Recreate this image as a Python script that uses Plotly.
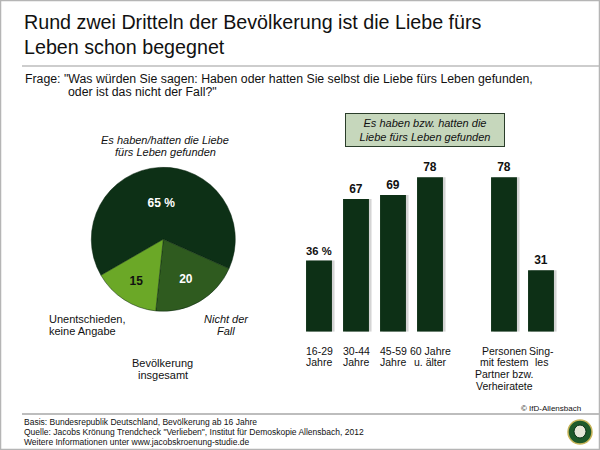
import plotly.graph_objects as go

W, H = 600, 450
FONT = "Liberation Sans"

# ---- data ----
pie_labels = ["Es haben/hatten die Liebe fürs Leben gefunden", "Nicht der Fall", "Unentschieden, keine Angabe"]
pie_values = [65, 20, 15]
pie_text = ["65 %", "20", "15"]

bar_positions = [0, 1, 2, 3, 5, 6]
bar_values = [36, 67, 69, 78, 78, 31]
bar_text = ["36 %", "67", "69", "78", "78", "31"]
bar_labels = ["16-29|Jahre", "30-44|Jahre", "45-59|Jahre", "60 Jahre|u. älter",
              "Personen|mit festem|Partner bzw.|Verheiratete", "Sing-|les"]


def px(x):
    return x / W


def py(y):
    return 1 - y / H


DARK = "#0d3016"
MID = "#2f5b1f"
LIGHT = "#6ba827"

fig = go.Figure()

# pie
cx, cy, r = 163.3, 239.3, 72
fig.add_trace(go.Pie(
    labels=pie_labels, values=pie_values, text=pie_text,
    texttemplate="<b>%{text}</b>", textposition="inside",
    insidetextorientation="horizontal",
    textfont=dict(family=FONT, size=12, color=["white", "white", "#111111"]),
    marker=dict(colors=[DARK, MID, LIGHT], line=dict(color="#0a2410", width=0.5)),
    sort=False, direction="clockwise", rotation=240,
    domain=dict(x=[px(cx - r), px(cx + r)], y=[py(cy + r), py(cy - r)]),
    showlegend=False, hoverinfo="skip",
))

# bar shadows (same data, slightly offset)
fig.add_trace(go.Bar(
    x=bar_positions, y=bar_values, marker=dict(color="#d4d4d4", line=dict(width=0)),
    width=0.7, offset=-0.35 + 0.07, showlegend=False, hoverinfo="skip",
))
# bars
fig.add_trace(go.Bar(
    x=bar_positions, y=bar_values, text=bar_text,
    texttemplate="<b>%{text}</b>", textposition="outside",
    textfont=dict(family=FONT, size=12, color="#111111"),
    marker=dict(color=DARK, line=dict(width=0)),
    width=0.7, offset=-0.35, cliponaxis=False, showlegend=False, hoverinfo="skip",
))

base_y = 331.7
top_y = base_y - 198
fig.update_xaxes(range=[-0.5, 6.5], domain=[px(300.5), px(559.5)], visible=False)
fig.update_yaxes(range=[0, 100], domain=[py(base_y), py(top_y)], visible=False)

ann = []


def text(x, y, s, size=11, xanchor="left", color="#111111", xref="paper", spacing=11.5):
    for i, line in enumerate(s.split("|")):
        ann.append(dict(x=x if xref != "paper" else px(x), y=py(y + i * spacing), xref=xref, yref="paper",
                        text=line, showarrow=False, xanchor=xanchor, yanchor="middle",
                        align=xanchor if xanchor != "center" else "center",
                        font=dict(family=FONT, size=size, color=color)))


# title
text(22, 22, "Rund zwei Dritteln der Bevölkerung ist die Liebe fürs|Leben schon begegnet", size=19.7, spacing=25)
text(23, 79.5, 'Frage: "Was würden Sie sagen: Haben oder hatten Sie selbst die Liebe fürs Leben gefunden,', size=12.3)
text(66, 92, 'oder ist das nicht der Fall?"', size=12.3)

# pie labels
text(165, 139.5, "<i>Es haben/hatten die Liebe</i>|<i>fürs Leben gefunden</i>", size=11, xanchor="center", spacing=12)
text(47, 319, "Unentschieden,|keine Angabe", size=11, spacing=11.5)
text(226, 319, "<i>Nicht der</i>|<i>Fall</i>", size=11, xanchor="center", spacing=11.5)
text(162.5, 363, "Bevölkerung|insgesamt", size=11, xanchor="center", spacing=11.5)

# box
ann.append(dict(x=px(425), y=py(130), xref="paper", yref="paper",
                text="<i>Es haben bzw. hatten die<br>Liebe fürs Leben gefunden</i>",
                showarrow=False, xanchor="center", yanchor="middle", align="center",
                font=dict(family=FONT, size=11, color="#111111"),
                bgcolor="#c6d7bc", bordercolor="#2a3d2a", borderwidth=1,
                width=156, height=30))

# bar category labels
for pos, lab in zip(bar_positions, bar_labels):
    text(pos, 350.5, lab, size=10.5, xanchor="center", xref="x", spacing=11.7)

# footer
text(583, 408, "© IfD-Allensbach", size=8, xanchor="right")
text(22, 422, "Basis: Bundesrepublik Deutschland, Bevölkerung ab 16 Jahre|"
              "Quelle: Jacobs Krönung Trendcheck \"Verlieben\", Institut für Demoskopie Allensbach, 2012|"
              "Weitere Informationen unter www.jacobskroenung-studie.de", size=8.5, spacing=10)

shapes = [
    dict(type="rect", xref="paper", yref="paper", x0=px(0.5), x1=px(599.5), y0=py(449.5), y1=py(0.5),
         line=dict(color="#b5b5b5", width=1.5)),
    dict(type="line", xref="paper", yref="paper", x0=px(22), x1=px(599), y0=py(66), y1=py(66),
         line=dict(color="#bdbdbd", width=1.5)),
    dict(type="line", xref="paper", yref="paper", x0=px(22), x1=px(599), y0=py(414), y1=py(414),
         line=dict(color="#bdbdbd", width=2)),
    # logo badge
    dict(type="circle", xref="paper", yref="paper", x0=px(568), x1=px(592), y0=py(444), y1=py(420),
         fillcolor="#1f5a2a", line=dict(color="#c9b55a", width=1.5)),
    dict(type="circle", xref="paper", yref="paper", x0=px(574), x1=px(586), y0=py(438), y1=py(425),
         fillcolor="#e8e8d8", line=dict(color="#0d3016", width=1)),
]

fig.update_layout(
    width=W, height=H, margin=dict(l=0, r=0, t=0, b=0),
    paper_bgcolor="white", plot_bgcolor="white",
    annotations=ann, shapes=shapes, barmode="overlay",
    font=dict(family=FONT),
)

fig.write_html("out.html", config={"displayModeBar": False},
               post_script="document.body.style.margin='0';document.body.style.overflow='hidden';")
